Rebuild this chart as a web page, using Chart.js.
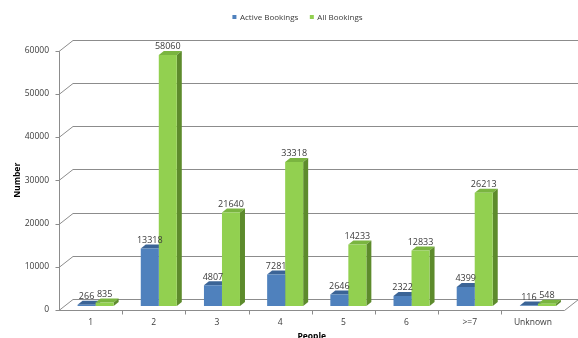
<!DOCTYPE html>
<html>
<head>
<meta charset="utf-8">
<title>Bookings by people</title>
<script src="https://cdn.jsdelivr.net/npm/chart.js@4.4.1/dist/chart.umd.min.js"></script>
<style>
  html, body { margin: 0; padding: 0; background: #fff; }
  canvas { display: block; }
</style>
</head>
<body>
<canvas id="chart" width="578" height="338"></canvas>
<script>
var people = ['1', '2', '3', '4', '5', '6', '>=7', 'Unknown'];
var activeBookings = [266, 13318, 4807, 7281, 2646, 2322, 4399, 116];
var allBookings = [835, 58060, 21640, 33318, 14233, 12833, 26213, 548];
var seriesNames = ['Active Bookings', 'All Bookings'];
var yTicks = [0, 10000, 20000, 30000, 40000, 50000, 60000];

var FONT = "'Open Sans', sans-serif";
var faces = [
    { front: '#4f81bd', top: '#3b6496', side: '#2f5583' },
    { front: '#92d050', top: '#7ab540', side: '#5d8b2c' }
];
// offsets from the plane the bars stand on
var depth = { dx: 5, dy: -4 };   // bar thickness
var front = { dx: -5, dy: 4 };   // front edge of the floor / value axis
var back = { dx: 9, dy: -7 };    // back wall

var fake3d = {
    id: 'fake3d',
    beforeDatasetsDraw: function (chart) {
        var ctx = chart.ctx, area = chart.chartArea;
        var xs = chart.scales.x, ys = chart.scales.y;
        ctx.save();
        ctx.strokeStyle = '#8c8c8c';
        ctx.lineWidth = 1;

        // back wall gridlines + left wall diagonals
        yTicks.forEach(function (v) {
            var py = Math.round(ys.getPixelForValue(v)) + 0.5;
            ctx.beginPath();
            ctx.moveTo(area.left + front.dx, py + front.dy);
            ctx.lineTo(area.left + back.dx, py + back.dy);
            ctx.lineTo(v === 0 ? area.right + back.dx : chart.width, py + back.dy);
            ctx.stroke();
        });

        // floor front edge, right edge
        var p0 = Math.round(ys.getPixelForValue(0)) + 0.5;
        ctx.beginPath();
        ctx.moveTo(area.left + front.dx, p0 + front.dy);
        ctx.lineTo(area.right + front.dx, p0 + front.dy);
        ctx.lineTo(area.right + back.dx, p0 + back.dy);
        ctx.stroke();

        // value axis + ticks
        var ax = Math.round(area.left + front.dx) + 0.5;
        var pTop = Math.round(ys.getPixelForValue(yTicks[yTicks.length - 1])) + 0.5;
        ctx.beginPath();
        ctx.moveTo(ax, pTop + front.dy);
        ctx.lineTo(ax, p0 + front.dy);
        yTicks.forEach(function (v) {
            var py = Math.round(ys.getPixelForValue(v)) + 0.5 + front.dy;
            ctx.moveTo(ax - 4, py);
            ctx.lineTo(ax, py);
        });
        // category ticks
        for (var i = 1; i < people.length; i++) {
            var bx = Math.round((xs.getPixelForValue(i - 1) + xs.getPixelForValue(i)) / 2 + front.dx) + 0.5;
            ctx.moveTo(bx, p0 + front.dy);
            ctx.lineTo(bx, p0 + front.dy + 4);
        }
        ctx.stroke();

        // top and side faces, fronts are drawn by chart.js on top
        chart.data.datasets.forEach(function (ds, i) {
            chart.getDatasetMeta(i).data.forEach(function (bar) {
                var p = bar.getProps(['x', 'y', 'base', 'width'], true);
                var l = p.x - p.width / 2, r = p.x + p.width / 2;
                ctx.fillStyle = faces[i].top;
                ctx.beginPath();
                ctx.moveTo(l, p.y);
                ctx.lineTo(l + depth.dx, p.y + depth.dy);
                ctx.lineTo(r + depth.dx, p.y + depth.dy);
                ctx.lineTo(r, p.y);
                ctx.closePath();
                ctx.fill();
                ctx.fillStyle = faces[i].side;
                ctx.beginPath();
                ctx.moveTo(r, p.y);
                ctx.lineTo(r + depth.dx, p.y + depth.dy);
                ctx.lineTo(r + depth.dx, p.base + depth.dy);
                ctx.lineTo(r, p.base);
                ctx.closePath();
                ctx.fill();
            });
        });
        ctx.restore();
    },
    afterDatasetsDraw: function (chart) {
        var ctx = chart.ctx, area = chart.chartArea;
        var xs = chart.scales.x, ys = chart.scales.y;
        ctx.save();

        // value labels over the bars
        ctx.fillStyle = '#3a3a3a';
        ctx.font = '9px ' + FONT;
        ctx.textAlign = 'center';
        ctx.textBaseline = 'alphabetic';
        chart.data.datasets.forEach(function (ds, i) {
            chart.getDatasetMeta(i).data.forEach(function (bar, j) {
                ctx.fillText(String(ds.data[j]), bar.x, bar.y + depth.dy - 1.5);
            });
        });

        // value axis labels
        ctx.font = '8.5px ' + FONT;
        ctx.textAlign = 'right';
        ctx.textBaseline = 'middle';
        yTicks.forEach(function (v) {
            ctx.fillText(String(v), area.left + front.dx - 10, ys.getPixelForValue(v) + front.dy);
        });

        // category labels
        ctx.textAlign = 'center';
        var yCat = ys.getPixelForValue(0) + front.dy + 13;
        people.forEach(function (c, i) {
            ctx.fillText(c, xs.getPixelForValue(i) + front.dx, yCat);
        });

        // axis titles
        ctx.fillStyle = '#000';
        ctx.font = 'bold 8.5px ' + FONT;
        ctx.textBaseline = 'top';
        ctx.fillText('People', (area.left + area.right) / 2 + front.dx, 332);
        ctx.save();
        ctx.translate(17.5, (ys.getPixelForValue(0) + ys.getPixelForValue(60000)) / 2 + front.dy);
        ctx.rotate(-Math.PI / 2);
        ctx.textBaseline = 'middle';
        ctx.fillText('Number', 0, 0);
        ctx.restore();

        // legend
        ctx.font = '8px ' + FONT;
        ctx.textAlign = 'left';
        ctx.textBaseline = 'middle';
        var widths = seriesNames.map(function (s) { return 4 + 3.5 + ctx.measureText(s).width; });
        var total = widths[0] + 11.5 + widths[1];
        var lx = 297.5 - total / 2;
        seriesNames.forEach(function (s, i) {
            ctx.fillStyle = faces[i].front;
            ctx.fillRect(lx, 15, 4, 4);
            ctx.fillStyle = '#3a3a3a';
            ctx.fillText(s, lx + 7.5, 17.5);
            lx += widths[i] + 11.5;
        });
        ctx.restore();
    }
};

new Chart(document.getElementById('chart'), {
    type: 'bar',
    data: {
        labels: people,
        datasets: [
            { label: seriesNames[0], data: activeBookings, backgroundColor: faces[0].front },
            { label: seriesNames[1], data: allBookings, backgroundColor: faces[1].front }
        ]
    },
    options: {
        responsive: false,
        animation: false,
        events: [],
        layout: { padding: { left: 64, right: 8.5, top: 46.6, bottom: 32 } },
        datasets: { bar: { categoryPercentage: 0.57, barPercentage: 1.0, borderWidth: 0 } },
        scales: {
            x: { display: false },
            y: { display: false, min: 0, max: 60000 }
        },
        plugins: {
            legend: { display: false },
            tooltip: { enabled: false }
        }
    },
    plugins: [fake3d]
});
</script>
</body>
</html>
